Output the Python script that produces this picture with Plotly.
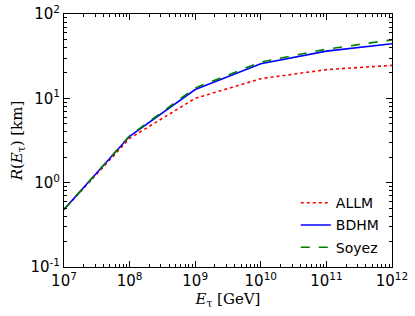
import plotly.graph_objects as go

energy = [1e7, 1e8, 1e9, 1e10, 1e11, 1e12]
allm = [0.48, 3.35, 10.0, 17.1, 21.9, 24.6]
bdhm = [0.48, 3.55, 12.7, 25.7, 36.3, 44.4]
soyez = [0.48, 3.6, 13.3, 26.9, 38.3, 49.4]

x_ticks = [1e7, 1e8, 1e9, 1e10, 1e11, 1e12]
x_labels = ["10<sup>7</sup>", "10<sup>8</sup>", "10<sup>9</sup>", "10<sup>10</sup>", "10<sup>11</sup>", "10<sup>12</sup>"]
y_ticks = [0.1, 1, 10, 100]
y_labels = ["10<sup>-1</sup>", "10<sup>0</sup>", "10<sup>1</sup>", "10<sup>2</sup>"]

fig = go.Figure()
fig.add_trace(go.Scatter(x=energy, y=allm, mode="lines", name="ALLM", legendgroup="a",
                         line=dict(color="#ff0000", width=1.6, dash="dot")))
fig.add_trace(go.Scatter(x=energy, y=bdhm, mode="lines", name="BDHM", legendgroup="b",
                         line=dict(color="#0000ff", width=1.6)))
fig.add_trace(go.Scatter(x=energy, y=soyez, mode="lines", name="Soyez", legendgroup="c",
                         line=dict(color="#008000", width=1.6, dash="dash")))

axis_common = dict(
    type="log", showgrid=False, zeroline=False, showline=True, linecolor="black",
    linewidth=1, mirror="allticks", ticks="inside", ticklen=6, tickcolor="black",
    automargin=False,
    tickfont=dict(family="DejaVu Sans", size=15, color="black"),
    minor=dict(ticks="inside", ticklen=3, tickcolor="black", dtick="D1", showgrid=False),
)

fig.update_layout(
    width=415, height=316,
    margin=dict(l=64, r=23, t=14, b=49),
    paper_bgcolor="white", plot_bgcolor="white",
    showlegend=True,
    legend=dict(x=0.975, y=0.015, xanchor="right", yanchor="bottom",
                bgcolor="rgba(0,0,0,0)", borderwidth=0,
                font=dict(family="DejaVu Sans", size=14, color="black"),
                tracegroupgap=1),
    xaxis=dict(axis_common, range=[7, 12], tickvals=x_ticks, ticktext=x_labels,
               title=dict(text="<i>E</i><sub>τ</sub> [GeV]", standoff=2,
                          font=dict(family="DejaVu Serif", size=15, color="black"))),
    yaxis=dict(axis_common, range=[-1, 2], tickvals=y_ticks, ticktext=y_labels,
               title=dict(text="<i>R</i>(<i>E</i><sub>τ</sub>) [km]", standoff=4,
                          font=dict(family="DejaVu Serif", size=15, color="black"))),
)

fig.write_html("out.html", config={"displayModeBar": False},
               post_script="document.body.style.margin='0';document.body.style.overflow='hidden';")
